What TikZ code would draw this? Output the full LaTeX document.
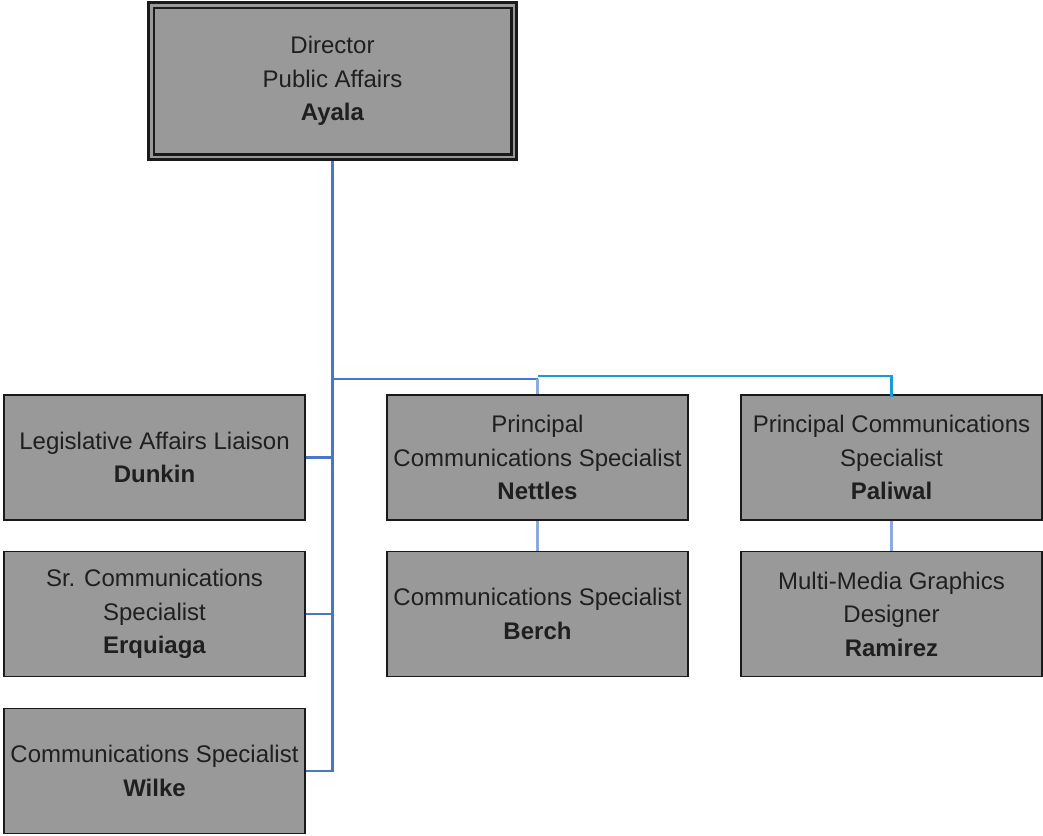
\documentclass[tikz,border=0pt]{standalone}
\usepackage{fontspec}
\setmainfont{Liberation Sans}
\definecolor{boxgrey}{HTML}{999999}
\definecolor{inkgrey}{HTML}{1F1F1F}
\definecolor{edgegrey}{HTML}{1A1A1A}
\definecolor{linkblue}{HTML}{4A76C9}
\definecolor{linkcyan}{HTML}{1B9AD6}
\definecolor{linklight}{HTML}{8EA9DB}
\begin{document}
\begin{tikzpicture}[x=1pt,y=-1pt,
  box/.style={draw=edgegrey, line width=1.8pt, fill=boxgrey, inner sep=0pt,
    minimum width=301pt, minimum height=125pt, align=center, text=inkgrey,
    font=\fontsize{24}{33.5}\selectfont},
  headbox/.style={box, line width=2.6pt, minimum width=368pt, minimum height=157pt},
  conn/.style={draw=linkblue, line width=2.6pt},
  conncyan/.style={draw=linkcyan, line width=2.8pt},
  connlight/.style={draw=linklight, line width=2.4pt}]
\useasboundingbox (0,0) rectangle (1043,835);

% boxes
\node[headbox] (top) at (332.5,81) {Director\\Public Affairs\\\textbf{Ayala}};
\draw[edgegrey, line width=2.4pt] ([shift={(6.5,6.5)}]top.north west) rectangle ([shift={(-6.5,-6.5)}]top.south east);

\node[box] (L1) at (154.5,457.5) {Legislative Affairs Liaison\\\textbf{Dunkin}};
\node[box] (L2) at (154.5,614) {Sr. Communications\\Specialist\\\textbf{Erquiaga}};
\node[box] (L3) at (154.5,771) {Communications Specialist\\\textbf{Wilke}};

\node[box] (M1) at (537.5,457.5) {Principal\\Communications Specialist\\\textbf{Nettles}};
\node[box] (M2) at (537.5,614) {Communications Specialist\\\textbf{Berch}};

\node[box] (R1) at (891.5,457.5) {Principal Communications\\Specialist\\\textbf{Paliwal}};
\node[box] (R2) at (891.5,614) {Multi-Media Graphics\\Designer\\\textbf{Ramirez}};

% bus points
\coordinate (busL) at (332.5,379);
\coordinate (busM) at (537.5,379);
\coordinate (busC) at (537.5,376);

% connectors
\draw[conn] (top.south) -- (top.south |- L3.east) -- (L3.east);
\draw[conn] (L1.east) -- (top.south |- L1.east);
\draw[conn] (L2.east) -- (top.south |- L2.east);
\draw[conn] (busL) -- (busM);
\draw[connlight] (busM) -- (M1.north);
\draw[conncyan] (busC) -- (R1.north |- busC) -- ([yshift=-3]R1.north);
\draw[connlight] (M1.south) -- (M2.north);
\draw[connlight] (R1.south) -- (R2.north);
\end{tikzpicture}
\end{document}
